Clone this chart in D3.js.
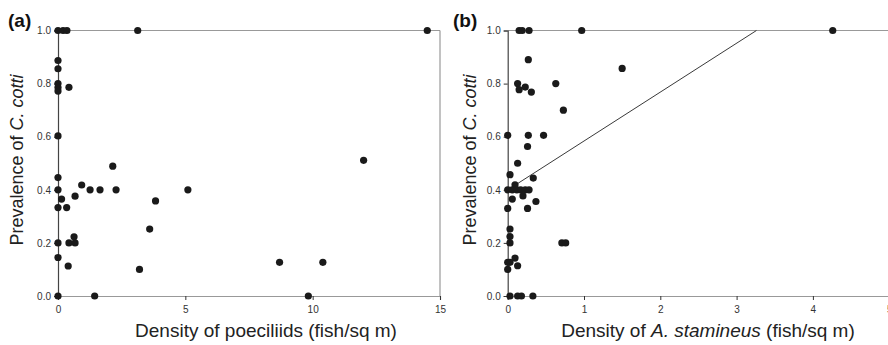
<!DOCTYPE html>
<html>
<head>
<meta charset="utf-8">
<script src="https://cdn.jsdelivr.net/npm/d3@7"></script>
<style>
  body { margin: 0; background: #fff; }
  text { font-family: "Liberation Sans", Arial, sans-serif; }
</style>
</head>
<body>
<svg id="chart" width="888" height="345"></svg>
<script>
// panel (a): density of poeciliids vs prevalence
const aX = [0, 0.2, 0.35, 3.13, 14.5,
  0, 0, 0, 0, 0, 0.43,
  0, 0, 0, 0.14, 0, 0.34, 0.67, 0.93, 1.26, 1.65, 2.15, 2.28, 3.83, 3.6, 0.63,
  0, 0.43, 0.67, 0, 0.4, 0, 1.44, 3.2, 5.1, 8.7, 10.4, 9.83, 12.0];
const aY = [1, 1, 1, 1, 1,
  0.887, 0.856, 0.80, 0.785, 0.772, 0.786,
  0.603, 0.446, 0.40, 0.365, 0.333, 0.333, 0.376, 0.418, 0.40, 0.40, 0.489, 0.40, 0.358, 0.252, 0.223,
  0.2, 0.2, 0.2, 0.145, 0.113, 0, 0, 0.10, 0.40, 0.127, 0.127, 0, 0.511];

// panel (b): density of A. stamineus vs prevalence
const bX = [0.15, 0.19, 0.28, 0.97, 4.26,
  0.27, 0.13, 0.15, 0.23, 0.31, 0.63, 0.73, 1.50,
  0, 0.27, 0.47, 0.26, 0.13, 0.03, 0.335, 0.096,
  0, 0.06, 0.12, 0.17, 0.23, 0.28,
  0.06, 0.2, 0.37, 0, 0.26,
  0.03, 0.03, 0.03, 0.71, 0.76,
  0, 0.03, 0.096, 0, 0.13,
  0.03, 0.13, 0.18, 0.33];
const bY = [1, 1, 1, 1, 1,
  0.89, 0.80, 0.777, 0.787, 0.768, 0.80, 0.70, 0.857,
  0.605, 0.605, 0.605, 0.563, 0.50, 0.457, 0.444, 0.419,
  0.40, 0.40, 0.40, 0.40, 0.40, 0.40,
  0.365, 0.377, 0.356, 0.33, 0.33,
  0.252, 0.224, 0.2, 0.2, 0.2,
  0.127, 0.127, 0.143, 0.10, 0.114,
  0, 0, 0, 0];

// fitted line in panel (b)
const fitX = [0.1, 3.26];
const fitY = [0.418, 1.0];

const aTicksX = [0, 5, 10, 15];
const bTicksX = [0, 1, 2, 3, 4, 5];
const ticksY = [0, 0.2, 0.4, 0.6, 0.8, 1.0];

const svg = d3.select("#chart");

function panel(opt) {
  const x = d3.scaleLinear().domain(opt.xDomain).range(opt.xRange);
  const y = d3.scaleLinear().domain([0, 1]).range([296, 30.5]);
  const g = svg.append("g");

  // frame (top + right)
  g.append("line")
    .attr("x1", opt.xRange[0]).attr("x2", opt.xRange[1])
    .attr("y1", y(1)).attr("y2", y(1))
    .attr("stroke", "#999").attr("stroke-width", 1.2);
  g.append("line")
    .attr("x1", opt.xRange[1]).attr("x2", opt.xRange[1])
    .attr("y1", y(1)).attr("y2", y(0))
    .attr("stroke", "#999").attr("stroke-width", 1.2);

  // x axis
  const xa = g.append("g")
    .attr("transform", "translate(0," + y(0) + ")")
    .call(d3.axisBottom(x).tickValues(opt.xTicks).tickSize(4).tickPadding(6).tickFormat(d3.format("d")));
  xa.select(".domain").attr("stroke", "#999").attr("stroke-width", 1.2);
  xa.selectAll(".tick line").attr("stroke", "#333");
  xa.selectAll("text").attr("font-size", 10).attr("fill", "#333")
    .style("font-family", "Liberation Sans, Arial, sans-serif");

  // y axis
  const ya = g.append("g")
    .attr("transform", "translate(" + opt.xRange[0] + ",0)")
    .call(d3.axisLeft(y).tickValues(ticksY).tickSize(4).tickPadding(3).tickFormat(d3.format(".1f")));
  ya.select(".domain").attr("stroke", "#444").attr("stroke-width", 1.2);
  ya.selectAll(".tick line").attr("stroke", "#333");
  ya.selectAll("text").attr("font-size", 10).attr("fill", "#333")
    .style("font-family", "Liberation Sans, Arial, sans-serif");

  if (opt.fit) {
    g.append("line")
      .attr("x1", x(opt.fit[0][0])).attr("y1", y(opt.fit[1][0]))
      .attr("x2", x(opt.fit[0][1])).attr("y2", y(opt.fit[1][1]))
      .attr("stroke", "#222").attr("stroke-width", 0.9);
  }

  g.selectAll("circle")
    .data(opt.xs.map((d, i) => [d, opt.ys[i]]))
    .enter()
    .append("circle")
    .attr("cx", d => x(d[0]))
    .attr("cy", d => y(d[1]))
    .attr("r", 3.6)
    .attr("fill", "#1a1a1a");

  // panel letter
  g.append("text")
    .attr("x", opt.letterX).attr("y", 27)
    .attr("font-size", 19).attr("font-weight", "bold")
    .attr("fill", "#111")
    .text(opt.letter);

  // y label
  const yl = g.append("text")
    .attr("transform", "translate(" + opt.yLabelX + ",160) rotate(-90)")
    .attr("text-anchor", "middle")
    .attr("font-size", 18).attr("fill", "#222");
  yl.append("tspan").text("Prevalence of ");
  yl.append("tspan").attr("font-style", "italic").text("C. cotti");

  // x label
  const xl = g.append("text")
    .attr("x", opt.xLabelX).attr("y", 337)
    .attr("text-anchor", "middle")
    .attr("font-size", 19).attr("fill", "#222");
  opt.xLabel.forEach(p => {
    const t = xl.append("tspan").text(p[0]);
    if (p[1]) t.attr("font-style", "italic");
  });
}

panel({
  xs: aX, ys: aY,
  xDomain: [0, 15], xRange: [58, 440], xTicks: aTicksX,
  letter: "(a)", letterX: 8, yLabelX: 23, xLabelX: 266,
  xLabel: [["Density of poeciliids (fish/sq m)", false]]
});

panel({
  xs: bX, ys: bY, fit: [fitX, fitY],
  xDomain: [0, 5], xRange: [507.7, 889.2], xTicks: bTicksX,
  letter: "(b)", letterX: 453, yLabelX: 476, xLabelX: 708,
  xLabel: [["Density of ", false], ["A. stamineus", true], [" (fish/sq m)", false]]
});
</script>
</body>
</html>
